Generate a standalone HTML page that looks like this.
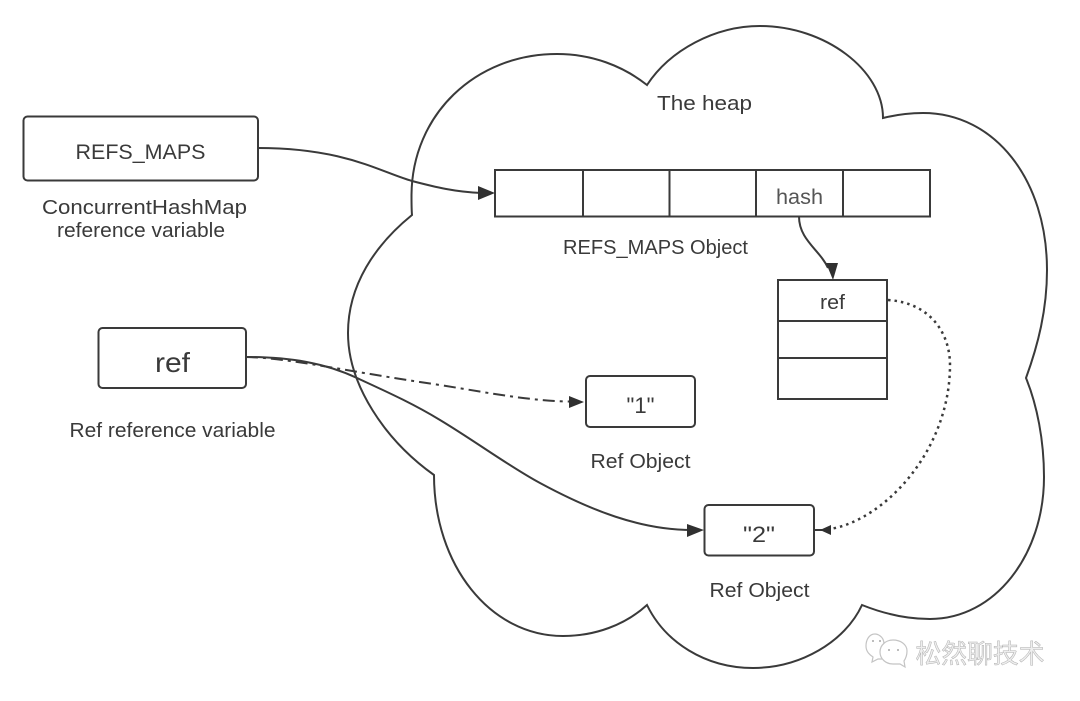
<!DOCTYPE html>
<html>
<head>
<meta charset="utf-8">
<style>
html,body{margin:0;padding:0;background:#fff;width:1080px;height:701px;overflow:hidden}
svg{display:block;filter:blur(.35px)}
text{font-family:"Liberation Sans","Noto Sans CJK SC",sans-serif;fill:#3a3a3a;font-size:20px;text-anchor:middle}
</style>
</head>
<body>
<svg width="1080" height="701" viewBox="0 0 1080 701" xmlns="http://www.w3.org/2000/svg">
<g fill="none" stroke="#3a3a3a" stroke-width="2">
<path d="M647,85 C670,50 715,26 760,26 C825,26 883,70 883,118 C895,115 910,113 923,113 C995,113 1047,180 1047,270 C1047,310 1038,345 1026,378 C1037,405 1044,440 1044,477 C1044,555 995,619 930,619 C905,619 882,613 862,605 C845,642 800,668 753,668 C705,668 665,642 647,605 C625,625 595,636 563,636 C490,636 434,565 434,475 C385,440 348,385 348,333 C348,285 375,245 412,215 C411.500,210 411.500,200 411.500,195 C412,115 475,54 557,54 C592,54 623,66 647,85 Z"/>
<rect x="23.500" y="116.500" width="234.500" height="64" rx="4"/>
<rect x="98.500" y="328" width="147.500" height="60" rx="4"/>
<rect x="495" y="170" width="435" height="46.500"/>
<path d="M583,170V216.500M669.500,170V216.500M756,170V216.500M843,170V216.500"/>
<rect x="778" y="280" width="109" height="119"/>
<path d="M778,321H887M778,358H887"/>
<rect x="586" y="376" width="109" height="51" rx="4"/>
<rect x="704.500" y="505" width="109.500" height="50.500" rx="4"/>
<path d="M258,148 C345,148 380,172 412,181 C435,187 455,192 482,193"/>
<path d="M799,216.500 C799,240 820,250 828,268"/>
<path d="M246,357 C290,357 325,363 357,378 C385,391 412,403 440,420 C475,441 510,467 540,483 C590,510 640,530 692,530"/>
<path d="M246,357 C290,358 350,372 440,385 C490,393 530,401 570,401.500" stroke-dasharray="12 5 3 5"/>
<path d="M888,300 C932,303 950,335 950,365 C950,450 885,520 830,529" stroke-dasharray="2.500 4" stroke-width="2.500"/>
<path d="M815,530 H822"/>
</g>
<g fill="#303030">
<path d="M495,193 L478,186 L478,200 Z"/>
<path d="M833,280 L826,263 L838,263 Z"/>
<path d="M704,530 L687,524 L687,537 Z"/>
<path d="M584,402 L569,396 L569,408 Z"/>
<path d="M820,530 L831,525 L831,535 Z"/>
</g>
<text x="704.500" y="110" textLength="95" lengthAdjust="spacingAndGlyphs">The heap</text>
<text x="140.500" y="159" style="font-size:21px" textLength="130" lengthAdjust="spacingAndGlyphs">REFS_MAPS</text>
<text x="144.500" y="214" textLength="205" lengthAdjust="spacingAndGlyphs">ConcurrentHashMap</text>
<text x="141" y="237" textLength="168" lengthAdjust="spacingAndGlyphs">reference variable</text>
<text x="172.500" y="372" style="font-size:28px" textLength="35" lengthAdjust="spacingAndGlyphs">ref</text>
<text x="172.500" y="437" textLength="206" lengthAdjust="spacingAndGlyphs">Ref reference variable</text>
<text x="799.500" y="204" style="fill:#555;font-size:21px" textLength="47" lengthAdjust="spacingAndGlyphs">hash</text>
<text x="655.500" y="254" textLength="185" lengthAdjust="spacingAndGlyphs">REFS_MAPS Object</text>
<text x="832.500" y="309" textLength="25" lengthAdjust="spacingAndGlyphs">ref</text>
<text x="640.500" y="413" style="font-size:22px" textLength="28" lengthAdjust="spacingAndGlyphs">"1"</text>
<text x="640.500" y="468" textLength="100" lengthAdjust="spacingAndGlyphs">Ref Object</text>
<text x="759" y="542" style="font-size:22px" textLength="32" lengthAdjust="spacingAndGlyphs">"2"</text>
<text x="759.500" y="597" textLength="100" lengthAdjust="spacingAndGlyphs">Ref Object</text>
<g fill="#fff" stroke="#c4c4c4" stroke-width="1.200">
<path d="M884,644 C884,636 877,634 875,634 C869,634 866,640 866,646 C866,652 870,655 873,657 L872,662 L878,659 L882,659"/>
<path d="M907,651 C907,644 900,640 893,640 C886,640 880,645 880,652 C880,659 886,664 893,664 C896,664 898,664 900,664 L905,667 L904,661 C906,658 907,655 907,651 Z"/>
</g>
<g fill="#a8a8a8"><circle cx="889" cy="650" r="1"/><circle cx="898" cy="650" r="1"/><circle cx="873" cy="641" r="1"/><circle cx="880" cy="641" r="1"/></g>
<text x="980" y="663" style="font-size:26px;fill:#eeeeee;stroke:#b0b0b0;stroke-width:.5" textLength="129" lengthAdjust="spacingAndGlyphs">松然聊技术</text>
</svg>
</body>
</html>
